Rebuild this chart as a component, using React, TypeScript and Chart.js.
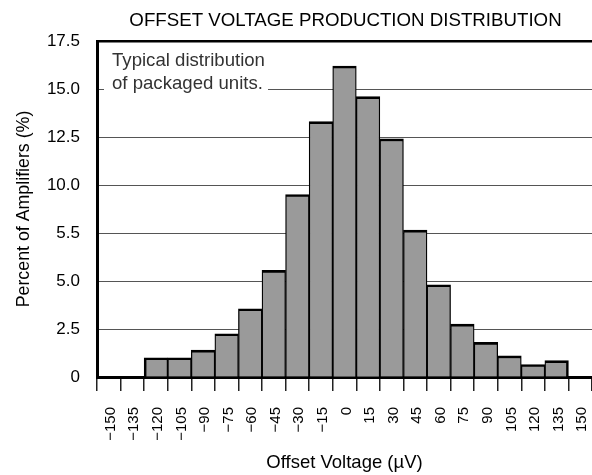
import React, { useEffect, useRef } from "react";
import { Chart, registerables } from "chart.js";

Chart.register(...registerables);

const binLabels: string[] = [
  "−150", "−135", "−120", "−105", "−90", "−75", "−60", "−45", "−30", "−15",
  "0", "15", "30", "45", "60", "75", "90", "105", "120", "135", "150",
];
const percentValues: number[] = [
  0, 0, 1.0, 1.0, 1.4, 2.25, 3.55, 5.55, 9.5, 13.3,
  16.2, 14.6, 12.4, 7.65, 4.8, 2.75, 1.8, 1.1, 0.65, 0.85, 0,
];
const yTickLabels: string[] = ["0", "2.5", "5.0", "5.5", "10.0", "12.5", "15.0", "17.5"];
const chartTitle = "OFFSET VOLTAGE PRODUCTION DISTRIBUTION";
const noteLines: string[] = ["Typical distribution", "of packaged units."];
const xTitle = "Offset Voltage (µV)";
const yTitle = "Percent of Amplifiers (%)";

const FONT = "'Liberation Sans', Arial, Helvetica, sans-serif";

const overlayPlugin = {
  id: "overlay",
  beforeDatasetsDraw(chart: any) {
    const { ctx, chartArea } = chart;
    ctx.save();
    ctx.fillStyle = "#ffffff";
    ctx.fillRect(chartArea.left + 7, chartArea.top + 3, 164, 52);
    ctx.fillStyle = "#333333";
    ctx.font = `18.6px ${FONT}`;
    ctx.textAlign = "left";
    ctx.textBaseline = "alphabetic";
    ctx.fillText(noteLines[0], chartArea.left + 15, chartArea.top + 25);
    ctx.fillText(noteLines[1], chartArea.left + 15, chartArea.top + 47.5);
    ctx.restore();
  },
  afterDraw(chart: any) {
    const { ctx, chartArea } = chart;
    ctx.save();
    ctx.fillStyle = "#000000";
    ctx.font = `18.7px ${FONT}`;
    ctx.textAlign = "center";
    ctx.textBaseline = "alphabetic";
    ctx.fillText(chartTitle, (chartArea.left + chartArea.right) / 2 + 1, 25.5);
    ctx.restore();
  },
};

export default function App() {
  const canvasRef = useRef<HTMLCanvasElement | null>(null);

  useEffect(() => {
    const canvas = canvasRef.current;
    if (!canvas) return;
    const lastBar = percentValues.length - 2;
    const chart = new Chart(canvas, {
      type: "bar",
      data: {
        labels: binLabels,
        datasets: [
          {
            data: percentValues,
            backgroundColor: "#9a9a9a",
            borderColor: "#000000",
            borderWidth: (c: any) => ({
              top: 2.6,
              left: c.dataIndex === 2 ? 2.6 : 1.3,
              right: c.dataIndex === lastBar ? 2.6 : 1.3,
              bottom: 0,
            }),
            borderSkipped: "bottom",
            barPercentage: 1,
            categoryPercentage: 1,
          },
        ],
      },
      options: {
        responsive: false,
        animation: false,
        devicePixelRatio: 1,
        layout: { padding: { top: 41, left: 0, right: 0, bottom: 0 } },
        plugins: {
          legend: { display: false },
          title: { display: false },
          tooltip: { enabled: false },
        },
        scales: {
          x: {
            type: "category",
            z: 1,
            offset: true,
            afterFit: (s: any) => {
              s.height = 98;
              s.paddingLeft = 0;
              s.paddingRight = 0;
            },
            grid: {
              offset: true,
              drawOnChartArea: false,
              drawTicks: true,
              tickLength: 14,
              color: "#222222",
              lineWidth: 1.5,
            },
            border: { display: true, color: "#000000", width: 3 },
            ticks: {
              autoSkip: false,
              minRotation: 90,
              maxRotation: 90,
              padding: 16,
              labelOffset: 2,
              color: "#000000",
              font: { family: FONT, size: 15 },
            },
            title: {
              display: true,
              text: xTitle,
              color: "#000000",
              font: { family: FONT, size: 18.5 },
              padding: { top: 0, bottom: 1 },
            },
          },
          y: {
            min: 0,
            max: 17.5,
            afterFit: (s: any) => {
              s.width = 97;
              s.paddingTop = 0;
              s.paddingBottom = 0;
            },
            afterBuildTicks: (s: any) => {
              s.ticks = yTickLabels.map((_, i) => ({ value: i * 2.5 }));
            },
            grid: {
              drawTicks: false,
              color: (c: any) => (c.index === yTickLabels.length - 1 ? "#000000" : "#555555"),
              lineWidth: (c: any) => (c.index === yTickLabels.length - 1 ? 2.5 : 1),
            },
            border: { display: true, color: "#000000", width: 3 },
            ticks: {
              padding: 17,
              color: "#000000",
              font: { family: FONT, size: 17 },
              callback: (_v: any, i: number) => yTickLabels[i],
            },
            title: {
              display: true,
              text: yTitle,
              color: "#000000",
              font: { family: FONT, size: 17.8 },
              padding: { top: 13, bottom: 0 },
            },
          },
        },
      },
      plugins: [overlayPlugin],
    } as any);
    return () => chart.destroy();
  }, []);

  return (
    <div style={{ position: "absolute", left: 0, top: 0, width: 592, height: 475, background: "#fff" }}>
      <canvas ref={canvasRef} width={592} height={475} style={{ display: "block" }} />
    </div>
  );
}
